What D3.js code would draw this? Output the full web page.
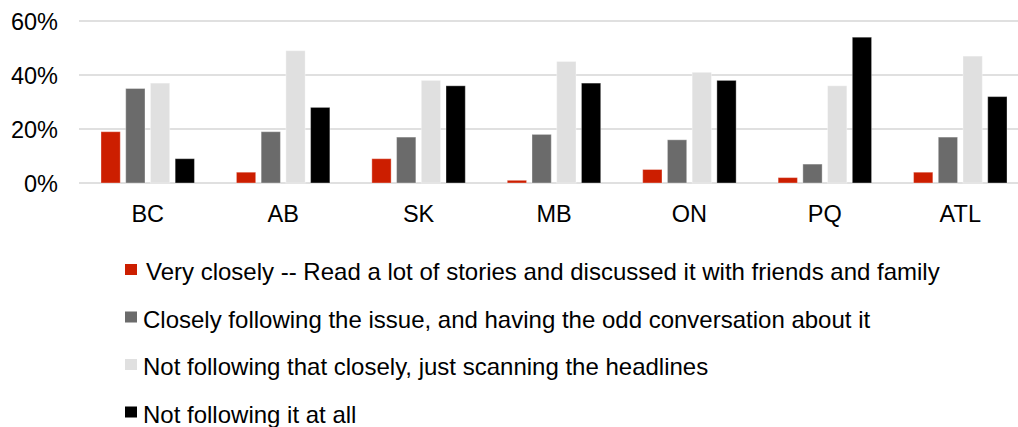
<!DOCTYPE html>
<html>
<head>
<meta charset="utf-8">
<script src="https://cdn.jsdelivr.net/npm/d3@7"></script>
<style>
  body { margin: 0; background: #fff; }
  svg { display: block; font-family: "Liberation Sans", Arial, sans-serif; }
</style>
</head>
<body>
<svg id="chart" width="1018" height="427"></svg>
<script>
// data
var regions = ["BC", "AB", "SK", "MB", "ON", "PQ", "ATL"];
var seriesNames = [
  "Very closely -- Read a lot of stories and discussed it with friends and family",
  "Closely following the issue, and having the odd conversation about it",
  "Not following that closely, just scanning the headlines",
  "Not following it at all"
];
var veryClosely = [19, 4, 9, 1, 5, 2, 4];
var closely     = [35, 19, 17, 18, 16, 7, 17];
var notClosely  = [37, 49, 38, 45, 41, 36, 47];
var notAtAll    = [9, 28, 36, 37, 38, 54, 32];
var yTicks = [0, 20, 40, 60];
var colors = ["#cc1e00", "#6b6b6b", "#e0e0e0", "#000000"];

var seriesValues = [veryClosely, closely, notClosely, notAtAll];

var svg = d3.select("#chart");
var margin = {top: 21, left: 80},
    plotBottom = 183,
    plotRight = 1028;

var x0 = d3.scaleBand().domain(regions)
  .range([margin.left, plotRight])
  .paddingInner(0.31).paddingOuter(0.155);
var x1 = d3.scaleBand().domain(d3.range(seriesNames.length))
  .range([0, x0.bandwidth()])
  .paddingInner(0.22);
var y = d3.scaleLinear().domain([0, 60]).range([plotBottom, margin.top]);

// gridlines
svg.append("g").selectAll("line")
  .data(yTicks)
  .enter().append("line")
  .attr("x1", margin.left - 1).attr("x2", 1018)
  .attr("y1", function(d) { return y(d); })
  .attr("y2", function(d) { return y(d); })
  .attr("stroke", "#e0e0e0")
  .attr("stroke-width", 2);

// y axis labels
var yAxis = svg.append("g")
  .attr("transform", "translate(" + (margin.left - 22) + ",0)")
  .call(d3.axisLeft(y).tickValues(yTicks).tickSize(0).tickPadding(0)
    .tickFormat(function(d) { return d + "%"; }));
yAxis.select(".domain").remove();
yAxis.selectAll("text")
  .attr("font-size", "23.5px")
  .attr("font-family", "Liberation Sans, Arial, sans-serif")
  .attr("fill", "#000")
  .attr("dy", "0.36em");

// x axis labels
var xAxis = svg.append("g")
  .attr("transform", "translate(0," + plotBottom + ")")
  .call(d3.axisBottom(x0).tickSize(0).tickPadding(0));
xAxis.select(".domain").remove();
xAxis.selectAll("text")
  .attr("font-size", "23.5px")
  .attr("font-family", "Liberation Sans, Arial, sans-serif")
  .attr("fill", "#000")
  .attr("dy", "1.65em");

// bars
var groups = svg.append("g").selectAll("g")
  .data(regions)
  .enter().append("g")
  .attr("transform", function(d) { return "translate(" + x0(d) + ",0)"; });

groups.selectAll("rect")
  .data(function(d, i) {
    return seriesValues.map(function(vals, s) { return {s: s, v: vals[i]}; });
  })
  .enter().append("rect")
  .attr("x", function(d) { return x1(d.s); })
  .attr("y", function(d) { return y(d.v); })
  .attr("width", x1.bandwidth())
  .attr("height", function(d) { return plotBottom - y(d.v); })
  .attr("fill", function(d) { return colors[d.s]; })
  .attr("stroke", "rgba(255,255,255,0.35)")
  .attr("stroke-width", 1);

// legend
var legend = svg.append("g").selectAll("g")
  .data(seriesNames)
  .enter().append("g")
  .attr("transform", function(d, i) { return "translate(125," + (264 + i * 47.5) + ")"; });

legend.append("rect")
  .attr("width", 12).attr("height", 11)
  .attr("fill", function(d, i) { return colors[i]; });

legend.append("text")
  .attr("x", function(d, i) { return i === 0 ? 21 : 18; })
  .attr("y", 16)
  .attr("font-size", "24px")
  .attr("fill", "#000")
  .text(function(d) { return d; });
</script>
</body>
</html>
